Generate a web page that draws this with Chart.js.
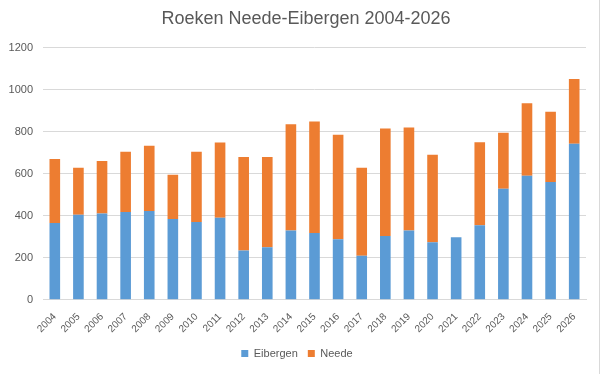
<!DOCTYPE html>
<html>
<head>
<meta charset="utf-8">
<script src="https://cdn.jsdelivr.net/npm/chart.js@4/dist/chart.umd.min.js"></script>
<style>
html,body{margin:0;padding:0;background:#fff;}
#wrap{width:601px;height:374px;position:relative;}
</style>
</head>
<body>
<div id="wrap"><canvas id="c" width="601" height="374"></canvas></div>
<script>
const years = ["2004","2005","2006","2007","2008","2009","2010","2011","2012","2013","2014","2015","2016","2017","2018","2019","2020","2021","2022","2023","2024","2025","2026"];
const eibergen = [365,405,410,418,423,385,370,390,235,250,330,318,288,210,303,330,274,298,355,528,590,560,742];
const neede    = [305,223,250,287,310,210,335,358,445,430,505,530,497,418,512,490,416,0,395,267,345,335,308];
const yTicks = [0,200,400,600,800,1000,1200];

const txt = '#595959';
const tweaks = {
  id:'tweaks',
  afterLayout(chart){
    const t = chart.titleBlock;
    if (t) { t.left += 9; t.right += 9; }
  },
  afterDraw(chart){
    const ctx = chart.ctx;
    ctx.save();
    ctx.strokeStyle = '#D9D9D9';
    ctx.lineWidth = 1;
    ctx.beginPath();
    ctx.moveTo(599.5, 0);
    ctx.lineTo(599.5, chart.height);
    ctx.stroke();
    ctx.restore();
  }
};
new Chart(document.getElementById('c'), {
  type: 'bar',
  data: {
    labels: years,
    datasets: [
      {label:'Eibergen', data: eibergen, backgroundColor:'#5B9BD5', barPercentage:0.45, categoryPercentage:1},
      {label:'Neede', data: neede, backgroundColor:'#ED7D31', barPercentage:0.45, categoryPercentage:1}
    ]
  },
  plugins:[tweaks],
  options: {
    responsive:false, animation:false,
    layout:{padding:{left:8,right:15,top:6,bottom:5}},
    plugins:{
      title:{display:true,text:'Roeken Neede-Eibergen 2004-2026',color:txt,
        font:{family:'Liberation Sans',size:18,weight:'normal'},padding:{top:2,bottom:18}},
      legend:{position:'bottom',labels:{color:txt,boxWidth:7,boxHeight:7,padding:10,
        font:{family:'Liberation Sans',size:11}}},
      tooltip:{enabled:false}
    },
    scales:{
      x:{stacked:true,grid:{display:false},border:{color:'#D9D9D9'},
        afterFit:(s)=>{s.paddingLeft=0;s.paddingRight=0;},
        ticks:{color:txt,autoSkip:false,minRotation:45,maxRotation:45,font:{family:'Liberation Sans',size:10},padding:3}},
      y:{stacked:true,min:0,max:1200,afterBuildTicks:(a)=>{a.ticks=yTicks.map(v=>({value:v}));},
        afterFit:(s)=>{s.width=35;},
        grid:{color:'#D9D9D9',drawTicks:false},border:{display:false},
        ticks:{color:txt,font:{family:'Liberation Sans',size:11},padding:10,callback:(v)=>String(v)}}
    }
  }
});
</script>
</body>
</html>
